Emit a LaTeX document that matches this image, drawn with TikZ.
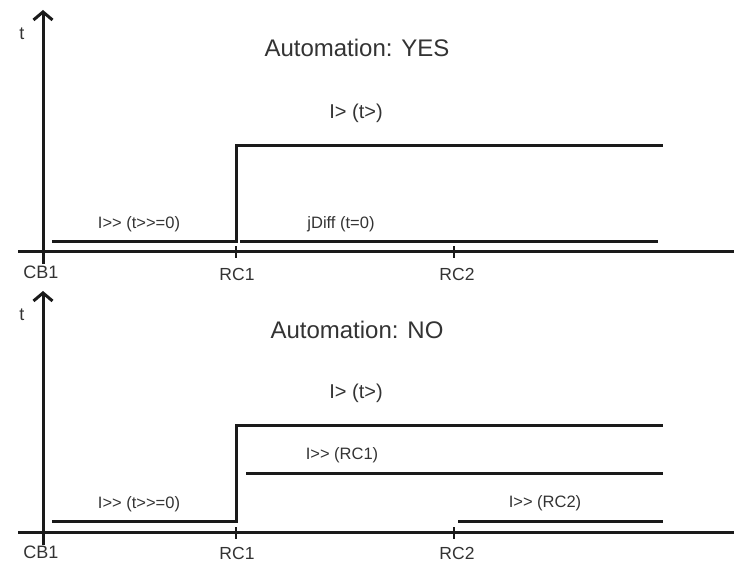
\documentclass[tikz,border=0pt]{standalone}
\usepackage{fontspec}
\setmainfont{Liberation Sans}
\usepackage{xcolor}
\usetikzlibrary{arrows.meta}

\definecolor{txtgray}{HTML}{333333}
\definecolor{linegray}{HTML}{1A1A1A}

\begin{document}
\begin{tikzpicture}[
  x=1pt, y=1pt,
  axis/.style={line width=3pt, draw=linegray},
  trip/.style={line width=3pt, draw=linegray},
  tickmark/.style={line width=2.5pt, draw=linegray},
  ttl/.style={font=\fontsize{24}{28}\selectfont, text=txtgray, inner sep=0pt},
  biglbl/.style={font=\fontsize{20}{24}\selectfont, text=txtgray, inner sep=0pt},
  lbl/.style={font=\fontsize{16.5}{20}\selectfont, text=txtgray, inner sep=0pt},
  axlbl/.style={font=\fontsize{18}{22}\selectfont, text=txtgray, inner sep=0pt}
]
\useasboundingbox (0,0) rectangle (734,562);

% upper panel
\begin{scope}[shift={(43,310)}]
  \coordinate (cbA) at (0,0);
  \coordinate (rcA) at (193,0);
  \coordinate (rcB) at (411,0);
  \draw[axis] (-25,0) -- (691,0);
  \draw[axis, -{Straight Barb[length=8pt,width=19pt]}] (0,-12) -- (0,242);
  \draw[tickmark] ([yshift=-6pt]rcA) -- ([yshift=6pt]rcA);
  \draw[tickmark] ([yshift=-6pt]rcB) -- ([yshift=6pt]rcB);
  \node[axlbl] (tA) at (-21,218) {t};
  \node[axlbl] (cbAlbl) at (-2,-20) {CB1};
  \node[lbl, font=\fontsize{17.5}{20}\selectfont] (rcAlbl) at (194,-22) {RC1};
  \node[lbl, font=\fontsize{17.5}{20}\selectfont] (rcBlbl) at (414,-22) {RC2};
  \node[ttl] (yes) at (314,204) {Automation: YES};
  % step of I> and the instantaneous stage
  \draw[trip] (9,10) -- (193,10) -- (193,106) -- (620,106);
  \draw[trip] (197,10) -- (615,10);
  \node[biglbl] (slowA) at (313,139) {I> (t>)};
  \node[lbl] (fastA) at (96,28) {I>{}> (t>{}>=0)};
  \node[lbl] (diff) at (298,28) {jDiff (t=0)};
\end{scope}

% lower panel
\begin{scope}[shift={(43,29)}]
  \coordinate (cbB) at (0,0);
  \coordinate (rcC) at (193,0);
  \coordinate (rcD) at (411,0);
  \draw[axis] (-25,0) -- (691,0);
  \draw[axis, -{Straight Barb[length=8pt,width=19pt]}] (0,-12) -- (0,242);
  \draw[tickmark] ([yshift=-6pt]rcC) -- ([yshift=6pt]rcC);
  \draw[tickmark] ([yshift=-6pt]rcD) -- ([yshift=6pt]rcD);
  \node[axlbl] (tB) at (-21,218) {t};
  \node[axlbl] (cbBlbl) at (-2,-19) {CB1};
  \node[lbl, font=\fontsize{17.5}{20}\selectfont] (rcClbl) at (194,-20) {RC1};
  \node[lbl, font=\fontsize{17.5}{20}\selectfont] (rcDlbl) at (414,-20) {RC2};
  \node[ttl] (no) at (314,203) {Automation: NO};
  % step of I> and the selective stages
  \draw[trip] (9,11) -- (193,11) -- (193,107) -- (620,107);
  \draw[trip] (203,59) -- (620,59);
  \draw[trip] (415,11) -- (620,11);
  \node[biglbl] (slowB) at (313,140) {I> (t>)};
  \node[lbl] (fastB) at (96,29) {I>{}> (t>{}>=0)};
  \node[lbl] (selA) at (299,78) {I>{}> (RC1)};
  \node[lbl] (selB) at (502,30) {I>{}> (RC2)};
\end{scope}
\end{tikzpicture}
\end{document}
